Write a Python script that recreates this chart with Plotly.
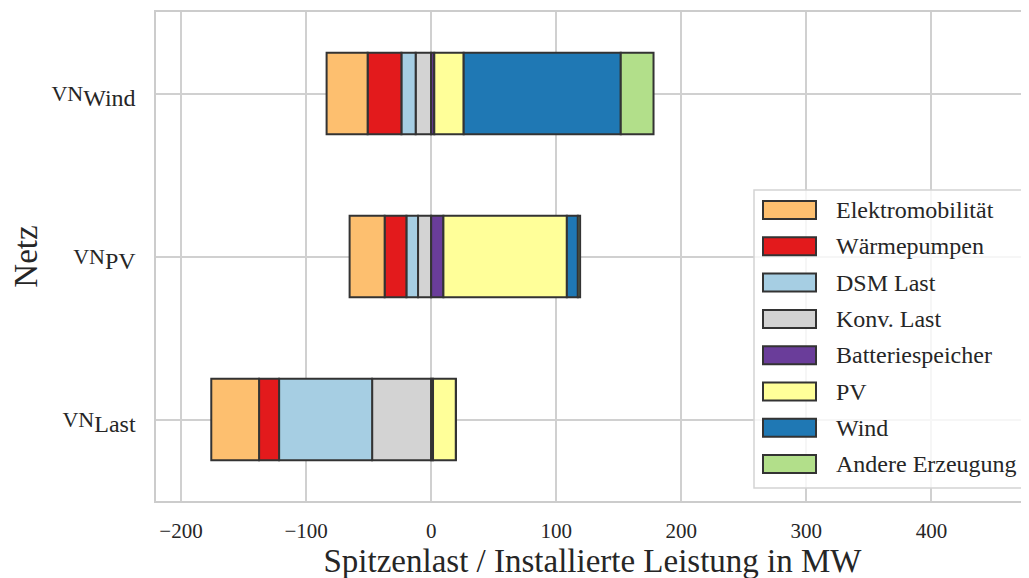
import plotly.graph_objects as go

# ---------------- data ----------------
networks = ["VN_Last", "VN_PV", "VN_Wind"]
network_labels = [
    "VN<sub><span style='font-size:24px'>Last</span></sub>",
    "VN<sub><span style='font-size:24px'>PV</span></sub>",
    "VN<sub><span style='font-size:24px'>Wind</span></sub>",
]

# values in MW (negative = load, positive = generation); order: VN_Last, VN_PV, VN_Wind
konv_last = [-47.2, -10.5, -12.4]
dsm_last = [-74.4, -9.3, -11.4]
waermepumpen = [-16.0, -17.4, -27.0]
elektromobilitaet = [-38.2, -28.0, -32.8]
batteriespeicher = [1.5, 9.8, 2.5]
pv = [18.3, 98.7, 23.5]
wind = [0.0, 8.8, 125.6]
andere = [0.0, 1.8, 26.2]

x_ticks = [-200, -100, 0, 100, 200, 300, 400]

legend_names = ["Elektromobilität", "Wärmepumpen", "DSM Last", "Konv. Last",
                "Batteriespeicher", "PV", "Wind", "Andere Erzeugung"]
colors = {
    "Elektromobilität": "#fdbf6f",
    "Wärmepumpen": "#e31a1c",
    "DSM Last": "#a6cee3",
    "Konv. Last": "#d3d3d3",
    "Batteriespeicher": "#6a3d9a",
    "PV": "#ffff99",
    "Wind": "#1f78b4",
    "Andere Erzeugung": "#b2df8a",
}

# stacking order (closest to zero first)
series = [
    ("Konv. Last", konv_last),
    ("DSM Last", dsm_last),
    ("Wärmepumpen", waermepumpen),
    ("Elektromobilität", elektromobilitaet),
    ("Batteriespeicher", batteriespeicher),
    ("PV", pv),
    ("Wind", wind),
    ("Andere Erzeugung", andere),
]

FONT = "Liberation Serif, Times New Roman, serif"
TXT = "#262626"
EDGE = "#333333"

fig = go.Figure()
for name, vals in series:
    fig.add_trace(go.Bar(
        y=networks, x=vals, name=name, orientation="h", width=0.5,
        marker=dict(color=colors[name], line=dict(color=EDGE, width=2)),
        showlegend=False,
    ))

# page offset (body margin of the html page)
OFF = 8
W, H = 1029, 578
# plot area in page pixels: x 156..1029, y 12..501
ml, mr, mt, mb = 156 - OFF, OFF, 12 - OFF, H - (501 - OFF)
pw, ph = W - ml - mr, H - mt - mb


def px_x(p):
    return (p - OFF - ml) / pw


def px_y(p):
    return (H - mb - (p - OFF)) / ph


shapes = []
annotations = []
shapes.append(dict(type="rect", xref="paper", yref="paper",
                   x0=px_x(754), x1=px_x(1045), y0=px_y(488), y1=px_y(190),
                   fillcolor="rgba(255,255,255,0.8)", line=dict(color="#d4d4d4", width=1.5),
                   layer="above"))
for i, name in enumerate(legend_names):
    cy = 210 + i * 36.3
    shapes.append(dict(type="rect", xref="paper", yref="paper",
                       x0=px_x(763), x1=px_x(816), y0=px_y(cy + 9), y1=px_y(cy - 9),
                       fillcolor=colors[name], line=dict(color=EDGE, width=2), layer="above"))
    annotations.append(dict(xref="paper", yref="paper", x=px_x(834), y=px_y(cy),
                            text=name, showarrow=False, xanchor="left", yanchor="middle",
                            font=dict(family=FONT, size=24, color=TXT)))

fig.update_layout(
    width=W, height=H,
    margin=dict(l=ml, r=mr, t=mt, b=mb, autoexpand=False),
    barmode="relative",
    plot_bgcolor="white", paper_bgcolor="white",
    font=dict(family=FONT, color=TXT),
    shapes=shapes, annotations=annotations,
    showlegend=False,
)
fig.update_xaxes(
    range=[-220, 478], tickvals=x_ticks,
    showgrid=True, gridcolor="#d0d0d0", gridwidth=1.5, zeroline=False,
    showline=True, linecolor="#cccccc", linewidth=2, mirror=True,
    ticks="", tickfont=dict(family=FONT, size=21, color=TXT), ticklabelstandoff=10,
    automargin=False,
    title=dict(text="Spitzenlast / Installierte Leistung in MW",
               font=dict(family=FONT, size=33, color=TXT), standoff=0),
)
fig.update_yaxes(
    type="category", range=[-0.5, 2.5],
    tickvals=networks, ticktext=network_labels,
    showgrid=True, gridcolor="#d0d0d0", gridwidth=1.5, zeroline=False,
    showline=True, linecolor="#cccccc", linewidth=2,
    ticks="", tickfont=dict(family=FONT, size=22, color=TXT), ticklabelstandoff=14,
    automargin=False,
    title=dict(text="Netz", font=dict(family=FONT, size=33, color=TXT), standoff=9),
)

fig.write_html("out.html")
